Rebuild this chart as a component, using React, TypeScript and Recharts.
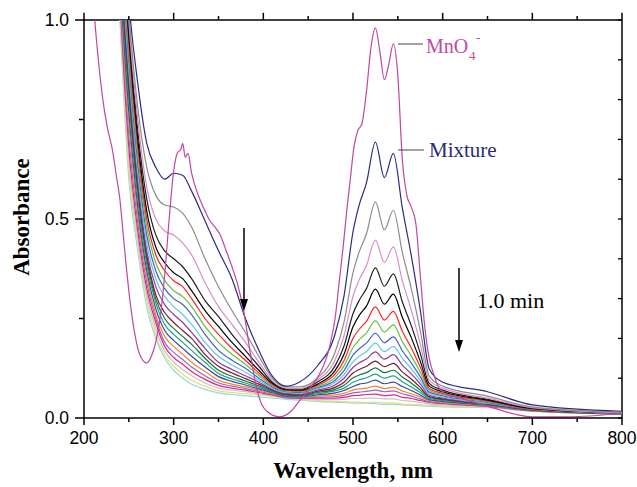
import { LineChart, Line, XAxis, YAxis, ReferenceLine } from "recharts";

// wavelength grid (nm) for the time-resolved spectra
const wavelengths = [230, 240, 250, 260, 270, 280, 290, 300, 310, 320, 335, 350, 365, 380, 395, 410, 425, 440, 460, 480, 490, 500, 507, 515, 525, 535, 545, 555, 565, 575, 585, 600, 650, 700, 800];

const mixture = [2.0, 1.45, 1.05, 0.84, 0.69, 0.63, 0.6, 0.615, 0.61, 0.57, 0.495, 0.42, 0.35, 0.25, 0.17, 0.105, 0.08, 0.09, 0.13, 0.211, 0.307, 0.468, 0.536, 0.591, 0.693, 0.604, 0.665, 0.528, 0.408, 0.272, 0.123, 0.09, 0.066, 0.033, 0.017];
const scan2 = [1.95, 1.42, 1.02, 0.78, 0.63, 0.56, 0.535, 0.53, 0.515, 0.48, 0.4, 0.33, 0.27, 0.215, 0.155, 0.1, 0.078, 0.078, 0.1, 0.165, 0.241, 0.365, 0.418, 0.463, 0.543, 0.473, 0.522, 0.416, 0.325, 0.22, 0.105, 0.08, 0.055, 0.028, 0.014];
const scan3 = [1.9, 1.4, 1.0, 0.75, 0.58, 0.5, 0.47, 0.46, 0.44, 0.41, 0.34, 0.28, 0.235, 0.19, 0.14, 0.095, 0.075, 0.074, 0.095, 0.146, 0.207, 0.306, 0.348, 0.383, 0.447, 0.391, 0.43, 0.345, 0.271, 0.187, 0.095, 0.075, 0.05, 0.026, 0.013];
const scan4 = [1.88, 1.37, 0.98, 0.72, 0.55, 0.46, 0.42, 0.4, 0.38, 0.35, 0.295, 0.255, 0.21, 0.17, 0.13, 0.09, 0.073, 0.072, 0.09, 0.131, 0.181, 0.262, 0.296, 0.325, 0.377, 0.331, 0.362, 0.292, 0.232, 0.163, 0.087, 0.07, 0.047, 0.025, 0.013];
const scan5 = [1.85, 1.34, 0.96, 0.7, 0.52, 0.43, 0.39, 0.365, 0.35, 0.32, 0.27, 0.23, 0.19, 0.155, 0.12, 0.087, 0.071, 0.07, 0.085, 0.119, 0.16, 0.229, 0.258, 0.281, 0.324, 0.286, 0.311, 0.253, 0.202, 0.143, 0.08, 0.066, 0.045, 0.024, 0.013];
const scan6 = [1.82, 1.31, 0.94, 0.68, 0.5, 0.41, 0.37, 0.345, 0.33, 0.3, 0.25, 0.21, 0.175, 0.145, 0.113, 0.084, 0.07, 0.068, 0.082, 0.11, 0.144, 0.2, 0.223, 0.243, 0.279, 0.246, 0.268, 0.218, 0.176, 0.128, 0.074, 0.062, 0.043, 0.023, 0.013];
const scan7 = [1.8, 1.28, 0.92, 0.66, 0.48, 0.39, 0.345, 0.32, 0.305, 0.28, 0.23, 0.19, 0.16, 0.135, 0.107, 0.081, 0.068, 0.066, 0.079, 0.102, 0.131, 0.177, 0.197, 0.214, 0.244, 0.216, 0.234, 0.192, 0.156, 0.115, 0.07, 0.059, 0.041, 0.023, 0.012];
const scan8 = [1.77, 1.25, 0.9, 0.64, 0.46, 0.37, 0.325, 0.3, 0.285, 0.26, 0.21, 0.17, 0.145, 0.125, 0.1, 0.078, 0.066, 0.064, 0.076, 0.095, 0.119, 0.158, 0.174, 0.188, 0.213, 0.189, 0.204, 0.169, 0.138, 0.104, 0.065, 0.056, 0.039, 0.022, 0.012];
const scan9 = [1.74, 1.22, 0.88, 0.62, 0.44, 0.35, 0.305, 0.28, 0.26, 0.235, 0.19, 0.155, 0.133, 0.115, 0.095, 0.075, 0.064, 0.062, 0.073, 0.089, 0.109, 0.141, 0.155, 0.167, 0.188, 0.167, 0.18, 0.15, 0.124, 0.094, 0.061, 0.053, 0.037, 0.022, 0.012];
const scan10 = [1.72, 1.2, 0.86, 0.6, 0.42, 0.33, 0.285, 0.26, 0.24, 0.215, 0.175, 0.14, 0.122, 0.106, 0.09, 0.072, 0.062, 0.06, 0.07, 0.083, 0.1, 0.127, 0.139, 0.148, 0.166, 0.148, 0.159, 0.133, 0.111, 0.086, 0.057, 0.05, 0.036, 0.021, 0.012];
const scan11 = [1.7, 1.18, 0.84, 0.58, 0.41, 0.31, 0.265, 0.24, 0.22, 0.2, 0.16, 0.13, 0.113, 0.099, 0.085, 0.07, 0.06, 0.058, 0.067, 0.077, 0.09, 0.113, 0.122, 0.13, 0.143, 0.129, 0.137, 0.116, 0.098, 0.077, 0.054, 0.048, 0.035, 0.021, 0.012];
const scan12 = [1.68, 1.16, 0.82, 0.57, 0.4, 0.3, 0.25, 0.225, 0.205, 0.185, 0.15, 0.12, 0.105, 0.093, 0.081, 0.068, 0.058, 0.056, 0.064, 0.072, 0.082, 0.101, 0.108, 0.114, 0.126, 0.114, 0.12, 0.103, 0.088, 0.07, 0.052, 0.046, 0.034, 0.02, 0.011];
const scan13 = [1.66, 1.14, 0.8, 0.55, 0.385, 0.29, 0.235, 0.21, 0.19, 0.17, 0.14, 0.112, 0.098, 0.088, 0.077, 0.066, 0.057, 0.055, 0.061, 0.068, 0.075, 0.09, 0.096, 0.101, 0.11, 0.1, 0.106, 0.091, 0.078, 0.064, 0.049, 0.044, 0.033, 0.02, 0.011];
const scan14 = [1.64, 1.12, 0.77, 0.53, 0.37, 0.275, 0.22, 0.195, 0.175, 0.155, 0.128, 0.104, 0.092, 0.083, 0.073, 0.064, 0.055, 0.053, 0.058, 0.063, 0.069, 0.079, 0.085, 0.088, 0.095, 0.086, 0.09, 0.079, 0.069, 0.058, 0.046, 0.042, 0.032, 0.02, 0.011];
const scan15 = [1.62, 1.1, 0.74, 0.51, 0.355, 0.26, 0.205, 0.18, 0.16, 0.14, 0.117, 0.095, 0.085, 0.078, 0.07, 0.062, 0.054, 0.052, 0.055, 0.058, 0.062, 0.07, 0.073, 0.075, 0.08, 0.074, 0.077, 0.068, 0.061, 0.053, 0.044, 0.04, 0.031, 0.019, 0.011];
const scan16 = [1.6, 1.08, 0.71, 0.49, 0.34, 0.25, 0.19, 0.165, 0.147, 0.128, 0.106, 0.088, 0.08, 0.074, 0.067, 0.06, 0.052, 0.05, 0.052, 0.054, 0.057, 0.063, 0.065, 0.067, 0.07, 0.066, 0.068, 0.061, 0.055, 0.048, 0.041, 0.038, 0.03, 0.019, 0.011];
const scan17 = [1.58, 1.06, 0.68, 0.47, 0.325, 0.24, 0.18, 0.152, 0.135, 0.117, 0.097, 0.082, 0.075, 0.07, 0.064, 0.058, 0.051, 0.049, 0.05, 0.05, 0.052, 0.056, 0.057, 0.059, 0.06, 0.056, 0.058, 0.052, 0.049, 0.044, 0.039, 0.036, 0.029, 0.018, 0.01];
const scan18 = [1.55, 1.04, 0.65, 0.45, 0.31, 0.225, 0.168, 0.14, 0.122, 0.106, 0.088, 0.075, 0.07, 0.066, 0.061, 0.056, 0.05, 0.048, 0.047, 0.046, 0.047, 0.049, 0.049, 0.05, 0.05, 0.048, 0.048, 0.044, 0.042, 0.039, 0.035, 0.033, 0.028, 0.018, 0.01];
const scan19 = [1.52, 1.02, 0.62, 0.435, 0.295, 0.21, 0.157, 0.13, 0.11, 0.095, 0.08, 0.068, 0.064, 0.061, 0.058, 0.054, 0.049, 0.047, 0.044, 0.042, 0.041, 0.04, 0.04, 0.039, 0.04, 0.038, 0.038, 0.035, 0.034, 0.033, 0.032, 0.03, 0.027, 0.017, 0.01];
const scan20 = [1.5, 1.0, 0.6, 0.42, 0.28, 0.2, 0.15, 0.12, 0.1, 0.085, 0.072, 0.063, 0.059, 0.056, 0.053, 0.05, 0.047, 0.045, 0.042, 0.04, 0.039, 0.038, 0.037, 0.037, 0.036, 0.034, 0.034, 0.033, 0.032, 0.031, 0.03, 0.028, 0.026, 0.017, 0.01];

// permanganate reference spectrum, own wavelength grid
const mnWavelengths = [205, 212, 216, 221, 226, 232, 236, 240, 245, 251, 256, 262, 270, 276, 280, 285, 290, 295, 300, 304, 308, 310, 313, 316, 320, 325, 330, 335, 340, 346, 352, 357, 365, 372, 378, 385, 392, 398, 405, 418, 430, 441, 450, 460, 474, 480, 485, 489, 493, 497, 501, 505, 510, 515, 520, 525, 530, 535, 540, 545, 550, 555, 560, 565, 570, 575, 580, 585, 590, 595, 600, 620, 650, 680, 700, 740, 800];
const mnAbsorbance = [1.25, 1.0, 0.9, 0.8, 0.73, 0.67, 0.61, 0.55, 0.43, 0.3, 0.22, 0.16, 0.138, 0.16, 0.19, 0.254, 0.36, 0.5, 0.62, 0.665, 0.675, 0.69, 0.655, 0.665, 0.615, 0.575, 0.545, 0.52, 0.497, 0.48, 0.46, 0.43, 0.38, 0.33, 0.27, 0.17, 0.08, 0.035, 0.015, 0.003, 0.015, 0.045, 0.07, 0.1, 0.18, 0.25, 0.35, 0.43, 0.52, 0.6, 0.68, 0.72, 0.74, 0.82, 0.93, 0.98, 0.92, 0.85, 0.89, 0.94, 0.86, 0.65, 0.56, 0.53, 0.49, 0.36, 0.23, 0.15, 0.11, 0.08, 0.065, 0.05, 0.03, 0.01, 0.003, 0.003, 0.012];

const xTicks = [200, 250, 300, 350, 400, 450, 500, 550, 600, 650, 700, 750, 800];
const yTicksLeft = [0, 0.25, 0.5, 0.75, 1];
const yTicksRight = [0, 0.1, 0.2, 0.3, 0.4, 0.5, 0.6, 0.7, 0.8, 0.9, 1];

// drawn lowest first so the upper scans sit on top
const scans = [
  { id: "s20", color: "#92d8e8", values: scan20 },
  { id: "s19", color: "#e6df72", values: scan19 },
  { id: "s18", color: "#c4c4c4", values: scan18 },
  { id: "s17", color: "#e8208a", values: scan17 },
  { id: "s16", color: "#8a6cc8", values: scan16 },
  { id: "s15", color: "#ff8424", values: scan15 },
  { id: "s14", color: "#3048a8", values: scan14 },
  { id: "s13", color: "#20a080", values: scan13 },
  { id: "s12", color: "#107a40", values: scan12 },
  { id: "s11", color: "#801830", values: scan11 },
  { id: "s10", color: "#923a9a", values: scan10 },
  { id: "s9", color: "#62c8e6", values: scan9 },
  { id: "s8", color: "#4262c8", values: scan8 },
  { id: "s7", color: "#62c040", values: scan7 },
  { id: "s6", color: "#ff2020", values: scan6 },
  { id: "s5", color: "#000000", values: scan5 },
  { id: "s4", color: "#202020", values: scan4 },
  { id: "s3", color: "#d890c8", values: scan3 },
  { id: "s2", color: "#8c8c8c", values: scan2 },
  { id: "mix", color: "#2b2b86", values: mixture },
];

const serif = "'Liberation Serif', 'Times New Roman', serif";
const sans = "'Liberation Sans', Arial, sans-serif";

function BottomTick({ x, y, payload }: any) {
  const major = payload.value % 100 === 0;
  return (
    <g>
      <line x1={x} x2={x} y1={y} y2={y + (major ? 7 : 4)} stroke="#000" strokeWidth={1.5} />
      {major && (
        <text x={x} y={y + 26} textAnchor="middle" fontFamily={sans} fontSize={17.5} fill="#000">
          {payload.value}
        </text>
      )}
    </g>
  );
}

function LeftTick({ x, y, payload }: any) {
  const major = payload.value === 0 || payload.value === 0.5 || payload.value === 1;
  return (
    <g>
      <line x1={x} x2={x - (major ? 9 : 5)} y1={y} y2={y} stroke="#000" strokeWidth={1.5} />
      {major && (
        <text x={x - 15} y={y + 6} textAnchor="end" fontFamily={sans} fontSize={17.5} fill="#000">
          {payload.value.toFixed(1)}
        </text>
      )}
    </g>
  );
}

export default function App() {
  return (
    <div style={{ position: "absolute", left: 0, top: 0, width: 637, height: 487, background: "#fff" }}>
      <LineChart width={637} height={487} margin={{ top: 20, right: 15, bottom: 0, left: 0 }}>
        <XAxis
          type="number"
          dataKey="w"
          domain={[200, 800]}
          ticks={xTicks}
          allowDataOverflow
          height={69}
          tickSize={0}
          tickMargin={0}
          tickLine={false}
          axisLine={{ stroke: "#000", strokeWidth: 1.5 }}
          tick={BottomTick}
        />
        <YAxis
          type="number"
          domain={[0, 1]}
          ticks={yTicksLeft}
          allowDataOverflow
          width={84}
          tickSize={0}
          tickMargin={0}
          tickLine={false}
          axisLine={{ stroke: "#000", strokeWidth: 1.5 }}
          tick={LeftTick}
        />
        {/* top and right frame with their ticks */}
        <ReferenceLine y={1} stroke="#000" strokeWidth={1.5} ifOverflow="visible" />
        <ReferenceLine x={800} stroke="#000" strokeWidth={1.5} ifOverflow="visible" />
        {xTicks.map((t) => (
          <ReferenceLine
            key={`top-${t}`}
            segment={[{ x: t, y: 1 }, { x: t, y: t % 100 === 0 ? 1.018 : 1.01 }]}
            stroke="#000"
            strokeWidth={1.5}
            ifOverflow="visible"
          />
        ))}
        {yTicksRight.map((t) => (
          <ReferenceLine
            key={`right-${t}`}
            segment={[{ x: 800, y: t }, { x: 795.5, y: t }]}
            stroke="#000"
            strokeWidth={1.3}
            ifOverflow="visible"
          />
        ))}
        {scans.map((s) => (
          <Line
            key={s.id}
            data={wavelengths.map((w, i) => ({ w, a: s.values[i] }))}
            dataKey="a"
            type="monotone"
            stroke={s.color}
            strokeWidth={1.2}
            dot={false}
            activeDot={false}
            isAnimationActive={false}
          />
        ))}
        <Line
          data={mnWavelengths.map((w, i) => ({ w, a: mnAbsorbance[i] }))}
          dataKey="a"
          type="monotone"
          stroke="#c244a4"
          strokeWidth={1.2}
          dot={false}
          activeDot={false}
          isAnimationActive={false}
        />
      </LineChart>
      <svg
        width={637}
        height={487}
        style={{ position: "absolute", left: 0, top: 0, pointerEvents: "none" }}
      >
        <line x1={398} x2={423} y1={44} y2={44} stroke="#444" strokeWidth={1} />
        <text x={426} y={53} fontFamily={serif} fontSize={20} fill="#c04aa6">MnO</text>
        <text x={469} y={60} fontFamily={serif} fontSize={13} fill="#c04aa6">4</text>
        <text x={476} y={42} fontFamily={serif} fontSize={13} fill="#c04aa6">-</text>
        <line x1={398} x2={424} y1={150} y2={150} stroke="#444" strokeWidth={1} />
        <text x={429} y={157} fontFamily={serif} fontSize={21} fill="#2a2a78">Mixture</text>
        <text x={477} y={308} fontFamily={serif} fontSize={22} fill="#000">1.0 min</text>
        <line x1={244} x2={244} y1={228} y2={302} stroke="#000" strokeWidth={1.5} />
        <polygon points="240,299 248,299 244,311" fill="#000" />
        <line x1={459} x2={459} y1={268} y2={343} stroke="#000" strokeWidth={1.5} />
        <polygon points="455,340 463,340 459,352" fill="#000" />
        <text x={353} y={478} textAnchor="middle" fontFamily={serif} fontWeight="bold" fontSize={23} fill="#000">
          Wavelength, nm
        </text>
        <text
          x={29}
          y={217}
          textAnchor="middle"
          fontFamily={serif}
          fontWeight="bold"
          fontSize={23}
          fill="#000"
          transform="rotate(-90 29 217)"
        >
          Absorbance
        </text>
      </svg>
    </div>
  );
}
